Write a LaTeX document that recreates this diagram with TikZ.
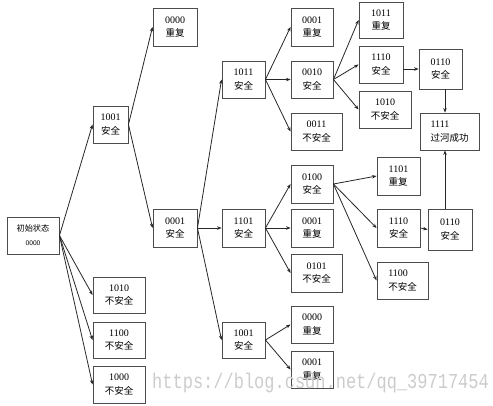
\documentclass[tikz,border=0pt]{standalone}
\usepackage{fontspec}
\usepackage{graphicx}
\setmainfont{Liberation Serif}
\newfontfamily\cjk{Noto Sans CJK SC}
\newfontfamily\wmfont{Liberation Mono}
\usetikzlibrary{arrows.meta}
\begin{document}
\begin{tikzpicture}[x=1pt,y=-1pt,
  box/.style={draw=black!70, line width=0.9pt, fill=white, inner sep=0pt, align=center,
    font=\fontsize{10}{13.5}\selectfont},
  lbox/.style={box, align=left},
  arr/.style={line width=0.8pt, draw=black!85, -{Stealth[length=4.5pt,width=3.5pt]}}]
\useasboundingbox (0,0) rectangle (493,405);
\newcommand\zh[1]{{\cjk\fontsize{9.5}{13.5}\selectfont #1}}
% column 0
\node[box, minimum width=52pt, minimum height=37pt, font=\fontsize{8}{14}\selectfont] (init) at (33,235.5)
  {\zh{\fontsize{8.2}{14}\selectfont 初始状态}\\{\sffamily\fontsize{7}{14}\selectfont 0000}};
% column 1
\node[box, minimum width=35pt, minimum height=37pt] (a1001) at (110.5,124.5) {1001\\\zh{安全}};
\node[box, minimum width=52pt, minimum height=36pt] (a1010) at (119,295) {1010\\\zh{不安全}};
\node[box, minimum width=52pt, minimum height=36pt] (a1100) at (119,340) {1100\\\zh{不安全}};
\node[box, minimum width=52pt, minimum height=37pt] (a1000) at (119,384.5) {1000\\\zh{不安全}};
% column 2
\node[box, minimum width=44pt, minimum height=38pt] (b0000) at (175,27) {0000\\\zh{重复}};
\node[box, minimum width=44pt, minimum height=38pt] (b0001) at (175,228) {0001\\\zh{安全}};
% column 3
\node[box, minimum width=43pt, minimum height=37pt] (c1011) at (243.5,79.5) {1011\\\zh{安全}};
\node[box, minimum width=43pt, minimum height=38pt] (c1101) at (243.5,228) {1101\\\zh{安全}};
\node[box, minimum width=43pt, minimum height=36pt] (c1001) at (243.5,340) {1001\\\zh{安全}};
% column 4
\node[box, minimum width=42pt, minimum height=38pt] (d0001) at (312,27) {0001\\\zh{重复}};
\node[box, minimum width=42pt, minimum height=37pt] (d0010) at (312,79.5) {0010\\\zh{安全}};
\node[box, minimum width=51pt, minimum height=37pt] (d0011) at (316.5,131.5) {0011\\\zh{不安全}};
\node[box, minimum width=42pt, minimum height=38pt] (d0100) at (312,184) {0100\\\zh{安全}};
\node[box, minimum width=42pt, minimum height=38pt] (d0001b) at (312,228) {0001\\\zh{重复}};
\node[box, minimum width=51pt, minimum height=38pt] (d0101) at (316.5,273) {0101\\\zh{不安全}};
\node[box, minimum width=42pt, minimum height=37pt] (d0000) at (312,324.5) {0000\\\zh{重复}};
\node[box, minimum width=42pt, minimum height=37pt] (d0001c) at (312,369.5) {0001\\\zh{重复}};
% column 5
\node[box, minimum width=44pt, minimum height=36pt] (e1011) at (381,20) {1011\\\zh{重复}};
\node[box, minimum width=44pt, minimum height=37pt] (e1110) at (381,64.5) {1110\\\zh{安全}};
\node[box, minimum width=52pt, minimum height=37pt] (e1010) at (385,109.5) {1010\\\zh{不安全}};
\node[lbox, minimum width=43pt, minimum height=38pt] (e1101) at (398.5,176) {1101\\\zh{重复}};
\node[box, minimum width=43pt, minimum height=38pt] (e1110b) at (398.5,228) {1110\\\zh{安全}};
\node[lbox, minimum width=51pt, minimum height=37pt] (e1100) at (402.5,280.5) {1100\\\zh{不安全}};
% column 6
\node[box, minimum width=43pt, minimum height=40pt] (f0110) at (440.5,69) {0110\\\zh{安全}};
\node[lbox, minimum width=59pt, minimum height=37pt] (f1111) at (449.5,131.5) {1111\\\zh{过河成功}};
\node[box, minimum width=44pt, minimum height=41pt] (f0110b) at (450,229.5) {0110\\\zh{安全}};
% edges
\foreach \t in {a1001,a1010,a1100,a1000} \draw[arr] (init.east) -- (\t.west);
\foreach \t in {b0000,b0001} \draw[arr] (a1001.east) -- (\t.west);
\foreach \t in {c1011,c1101,c1001} \draw[arr] (b0001.east) -- (\t.west);
\foreach \t in {d0001,d0010,d0011} \draw[arr] (c1011.east) -- (\t.west);
\foreach \t in {d0100,d0001b,d0101} \draw[arr] (c1101.east) -- (\t.west);
\foreach \t in {d0000,d0001c} \draw[arr] (c1001.east) -- (\t.west);
\foreach \t in {e1011,e1110,e1010} \draw[arr] (d0010.east) -- (\t.west);
\foreach \t in {e1101,e1110b,e1100} \draw[arr] (d0100.east) -- (\t.west);
\draw[arr] (e1110.east |- f0110.west) -- (f0110.west);
\draw[arr] (e1110b.east) -- (f0110b.west);
\draw[arr] ([xshift=4.5pt]f0110.south) -- ([xshift=4.5pt]f0110.south |- f1111.north);
\draw[arr] ([xshift=-5pt]f0110b.north) -- ([xshift=-5pt]f0110b.north |- f1111.south);
% watermark
\node[text=black!20, anchor=base west, inner sep=0pt, font=\wmfont\fontsize{17}{17}\selectfont] (wm) at (152,388)
  {\scalebox{1}[1.25]{https://blog.csdn.net/qq\_39717454}};
\end{tikzpicture}
\end{document}
